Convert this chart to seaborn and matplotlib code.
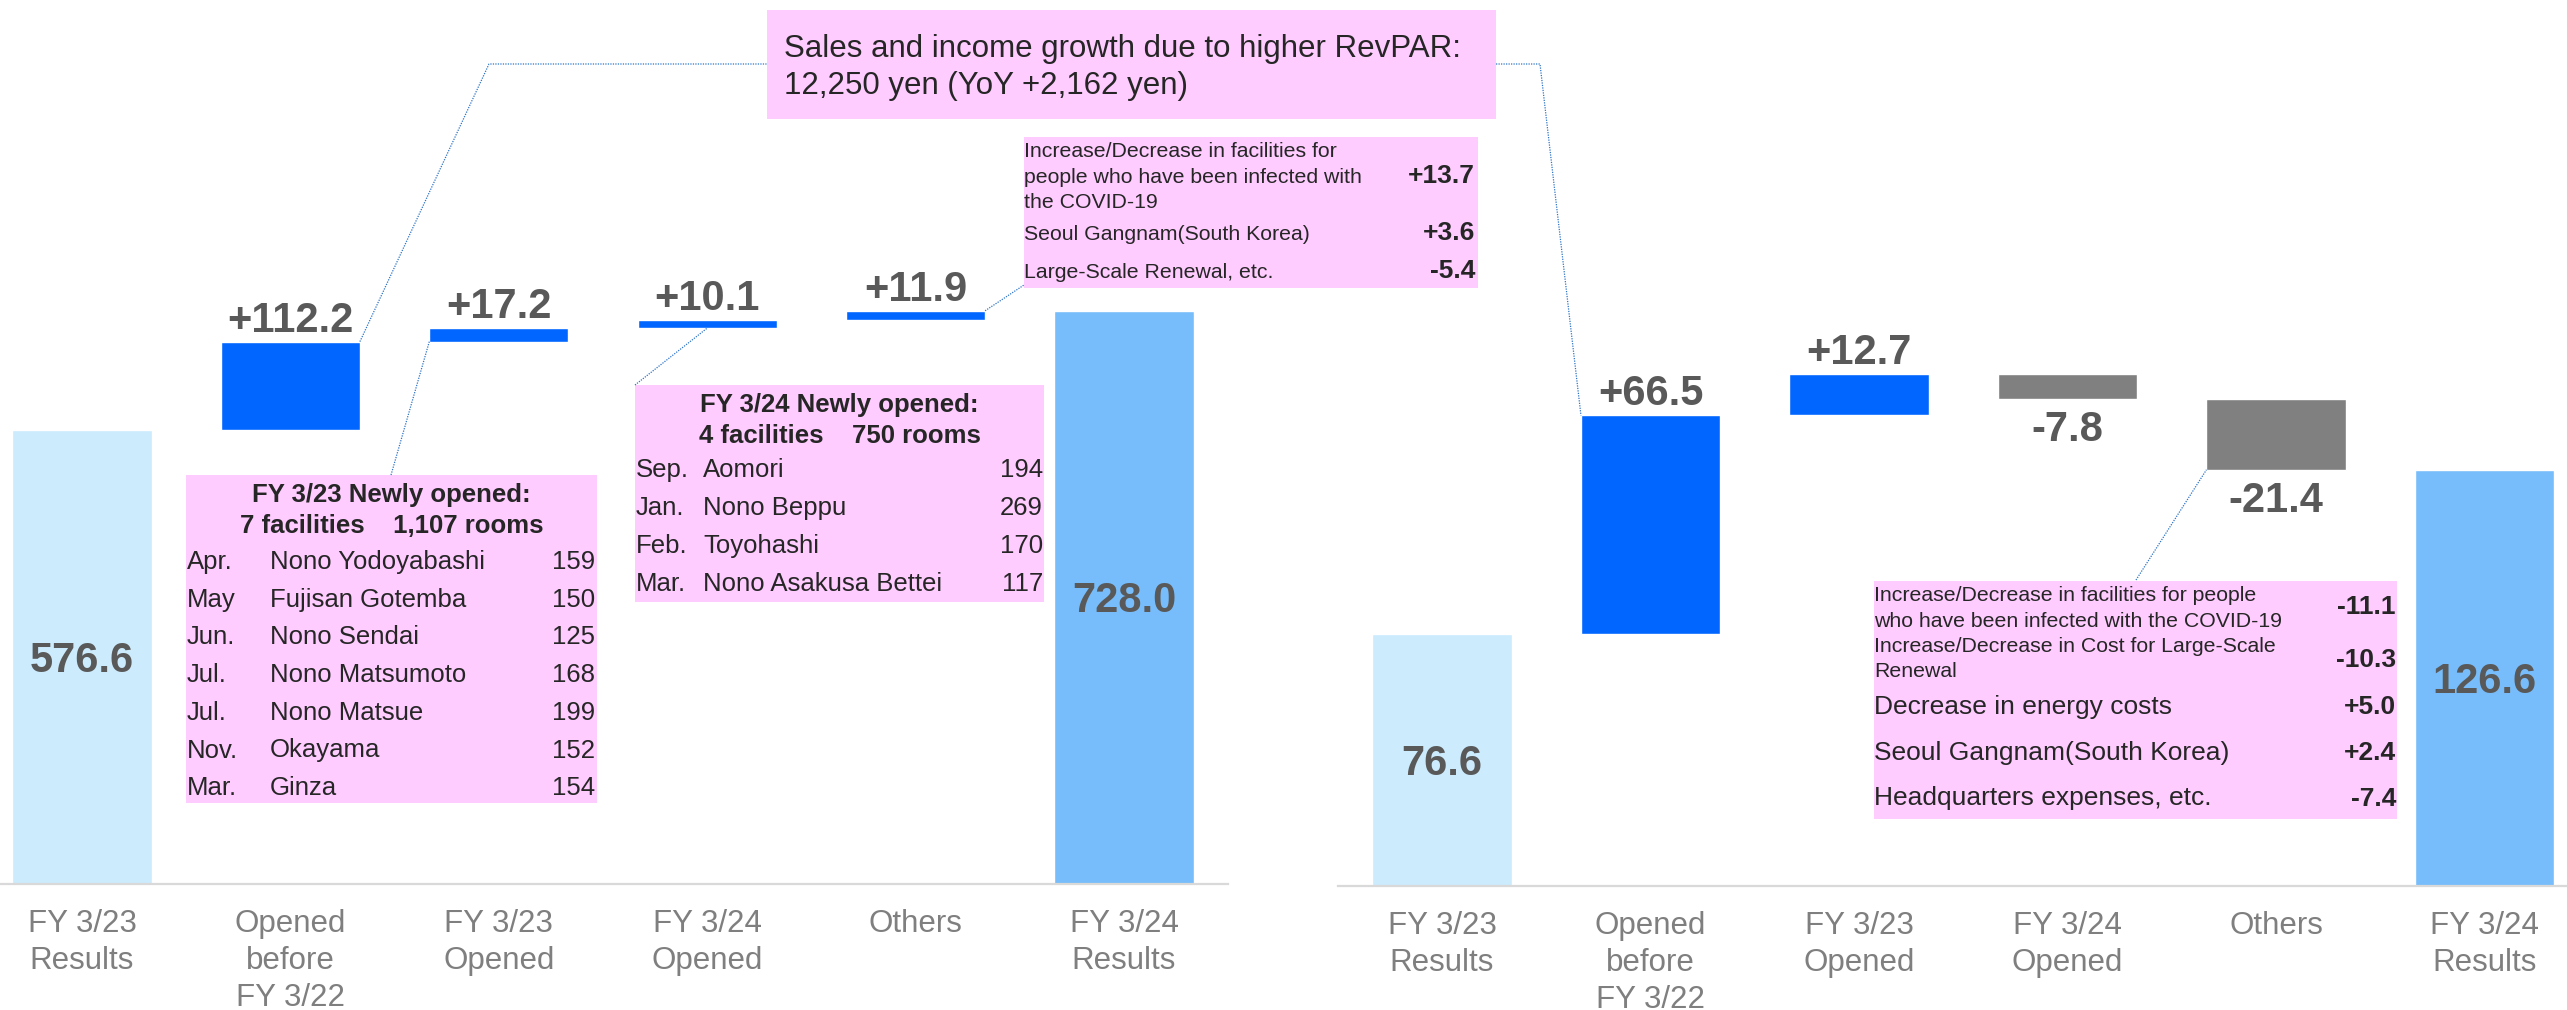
import numpy as np
import pandas as pd
import matplotlib
matplotlib.use("Agg")
import matplotlib.pyplot as plt
from matplotlib.patches import Rectangle
import seaborn as sns


# ---- data ----
categories = ["FY 3/23\nResults", "Opened\nbefore\nFY 3/22", "FY 3/23\nOpened",
              "FY 3/24\nOpened", "Others", "FY 3/24\nResults"]

sales_start = 576.6
sales_steps = [112.2, 17.2, 10.1, 11.9]
sales_end = 728.0

income_start = 76.6
income_steps = [66.5, 12.7, -7.8, -21.4]
income_end = 126.6

revpar_note = ["Sales and income growth due to higher RevPAR:",
               "12,250 yen (YoY +2,162 yen)"]

fy23_title = ["FY 3/23 Newly opened:", "7 facilities    1,107 rooms"]
fy23_months = ["Apr.", "May", "Jun.", "Jul.", "Jul.", "Nov.", "Mar."]
fy23_names = ["Nono Yodoyabashi", "Fujisan Gotemba", "Nono Sendai",
              "Nono Matsumoto", "Nono Matsue", "Okayama", "Ginza"]
fy23_rooms = [159, 150, 125, 168, 199, 152, 154]

fy24_title = ["FY 3/24 Newly opened:", "4 facilities    750 rooms"]
fy24_months = ["Sep.", "Jan.", "Feb.", "Mar."]
fy24_names = ["Aomori", "Nono Beppu", "Toyohashi", "Nono Asakusa Bettei"]
fy24_rooms = [194, 269, 170, 117]

sales_other_items = [["Increase/Decrease in facilities for",
                      "people who have been infected with",
                      "the COVID-19"],
                     ["Seoul Gangnam(South Korea)"],
                     ["Large-Scale Renewal, etc."]]
sales_other_values = ["+13.7", "+3.6", "-5.4"]

income_other_items = [["Increase/Decrease in facilities for people",
                       "who have been infected with the COVID-19"],
                      ["Increase/Decrease in Cost for Large-Scale",
                       "Renewal"],
                      ["Decrease in energy costs"],
                      ["Seoul Gangnam(South Korea)"],
                      ["Headquarters expenses, etc."]]
income_other_values = ["-11.1", "-10.3", "+5.0", "+2.4", "-7.4"]

# ---- style ----
LIGHT = "#CCEBFD"
MID = "#77BDFB"
BLUE = "#0066FF"
GREY = "#808080"
PINK = "#FFCCFF"
LABEL = "#595959"
CAT = "#7F7F7F"
INK = "#262626"
LEADER = "#2E75C6"
BAR_W = 0.667

sns.set_theme(style="white")
plt.rcParams["font.family"] = ["Liberation Sans", "DejaVu Sans"]

W, H = 2567, 1010
fig = plt.figure(figsize=(W / 100, H / 100), dpi=100)


def add_panel(left_px, right_px, base_px):
    return fig.add_axes([left_px / W, (H - base_px) / H,
                         (right_px - left_px) / W, base_px / H])


def set_scale(ax, left_px, right_px, base_px, x0_px, step_px, px_per_unit):
    ax.set_xlim((left_px - x0_px) / step_px, (right_px - x0_px) / step_px)
    ax.set_ylim(0, base_px / px_per_unit)


def waterfall(ax, start, steps, end):
    steps = np.array(steps)
    levels = start + np.cumsum(steps)
    prev = np.concatenate([[start], levels[:-1]])
    bottoms = np.minimum(prev, levels)
    heights = np.abs(steps)
    pos = np.arange(1, len(steps) + 1)

    totals = pd.DataFrame({"category": [categories[0], categories[-1]],
                           "value": [start, end]})
    sns.barplot(data=totals, x="category", y="value", hue="category",
                order=categories, palette={categories[0]: LIGHT, categories[-1]: MID},
                width=BAR_W, saturation=1, errorbar=None, legend=False, ax=ax)
    ax.bar(pos, heights, bottom=bottoms, width=BAR_W,
           color=[BLUE if s > 0 else GREY for s in steps], zorder=3)

    for x, v in [(0, start), (len(categories) - 1, end)]:
        ax.annotate(f"{v:.1f}", (x, v / 2), xytext=(0, -10.8), textcoords="offset points",
                    ha="center", va="baseline", fontsize=30, fontweight="bold", color=LABEL)
    for x, s, b, h in zip(pos, steps, bottoms, heights):
        if s > 0:
            ax.annotate(f"{s:+.1f}", (x, b + h), xytext=(0, 7.2), textcoords="offset points",
                        ha="center", va="baseline", fontsize=30, fontweight="bold", color=LABEL)
        else:
            ax.annotate(f"{s:+.1f}", (x, b), xytext=(0, -8), textcoords="offset points",
                        ha="center", va="top", fontsize=30, fontweight="bold", color=LABEL)

    ax.set_xticks(range(len(categories)), categories)
    ax.tick_params(axis="x", length=0, pad=18, labelsize=22.5, labelcolor=CAT)
    for t in ax.get_xticklabels():
        t.set_linespacing(1.3)
    ax.set_yticks([])
    ax.set_xlabel("")
    ax.set_ylabel("")
    for side in ["top", "left", "right"]:
        ax.spines[side].set_visible(False)
    ax.spines["bottom"].set_color("#D9D9D9")
    ax.spines["bottom"].set_linewidth(1.6)
    return pos, bottoms, heights


ax_sales = add_panel(0, 1228, 884)
s_pos, s_bot, s_hgt = waterfall(ax_sales, sales_start, sales_steps, sales_end)
set_scale(ax_sales, 0, 1228, 884, 82, 208.4, 0.7874)

ax_inc = add_panel(1338, 2567, 886)
i_pos, i_bot, i_hgt = waterfall(ax_inc, income_start, income_steps, income_end)
set_scale(ax_inc, 1338, 2567, 886, 1442, 208.5, 3.288)

# overlay in pixel coordinates for call-out boxes and leader lines
ov = fig.add_axes([0, 0, 1, 1])
ov.set_xlim(0, W)
ov.set_ylim(H, 0)
ov.axis("off")


def to_px(ax, x, y):
    return ov.transData.inverted().transform(ax.transData.transform((x, y)))


def box(x0, y0, x1, y1):
    ov.add_patch(Rectangle((x0, y0), x1 - x0, y1 - y0, facecolor=PINK,
                           edgecolor="none", zorder=2))


def leader(points):
    xs, ys = zip(*points)
    ov.plot(xs, ys, color=LEADER, lw=0.9, ls=(0, (1, 1)), zorder=3)


def txt(x, y, s, size, ha="left", bold=False):
    ov.text(x, y, s, fontsize=size, ha=ha, va="baseline", color=INK,
            fontweight="bold" if bold else "normal", zorder=4)


hw = BAR_W / 2

# RevPAR note
box(767, 10, 1496, 119)
txt(784, 57, revpar_note[0], 22.5)
txt(784, 94, revpar_note[1], 22.5)
leader([to_px(ax_sales, s_pos[0] + hw, s_bot[0] + s_hgt[0]), (489, 64), (767, 64)])
leader([(1496, 64), (1540, 64), to_px(ax_inc, i_pos[0] - hw, i_bot[0] + i_hgt[0])])

# FY 3/23 newly opened
box(186, 475, 597, 803)
txt(391.5, 502, fy23_title[0], 18.5, ha="center", bold=True)
txt(391.5, 533, fy23_title[1], 18.5, ha="center", bold=True)
for i, (m, n, r) in enumerate(zip(fy23_months, fy23_names, fy23_rooms)):
    y = 569 + 37.7 * i
    txt(187, y, m, 18.5)
    txt(270, y, n, 18.5)
    txt(595, y, str(r), 18.5, ha="right")
leader([(391, 475), to_px(ax_sales, s_pos[1] - hw, s_bot[1])])

# FY 3/24 newly opened
box(635, 385, 1044, 602)
txt(839.5, 412, fy24_title[0], 18.5, ha="center", bold=True)
txt(839.5, 443, fy24_title[1], 18.5, ha="center", bold=True)
for i, (m, n, r) in enumerate(zip(fy24_months, fy24_names, fy24_rooms)):
    y = 477 + 38 * i
    txt(636, y, m, 18.5)
    txt(703, y, n, 18.5)
    txt(1043, y, str(r), 18.5, ha="right")
leader([(635, 385), to_px(ax_sales, s_pos[2], s_bot[2])])

# sales: others breakdown
box(1024, 137, 1478, 288)
sales_line_y = [[157, 183, 208], [240], [278]]
sales_value_y = [183, 240, 278]
for lines, ys, v, vy in zip(sales_other_items, sales_line_y, sales_other_values, sales_value_y):
    for line, y in zip(lines, ys):
        txt(1024, y, line, 15.3)
    txt(1475, vy, v, 19, ha="right", bold=True)
leader([to_px(ax_sales, s_pos[3] + hw, s_bot[3] + s_hgt[3]), (1024, 285)])

# income: others breakdown
box(1874, 581, 2397, 819)
inc_line_y = [[601, 627], [652, 677], [714], [760], [805]]
inc_value_y = [614, 667, 714, 760, 806]
inc_sizes = [15.3, 15.3, 19, 19, 19]
for lines, ys, v, vy, fs in zip(income_other_items, inc_line_y, income_other_values,
                                inc_value_y, inc_sizes):
    for line, y in zip(lines, ys):
        txt(1874, y, line, fs)
    txt(2396, vy, v, 19, ha="right", bold=True)
leader([(2136, 580), to_px(ax_inc, i_pos[3] - hw, i_bot[3])])

fig.savefig("out.png", dpi=100)
